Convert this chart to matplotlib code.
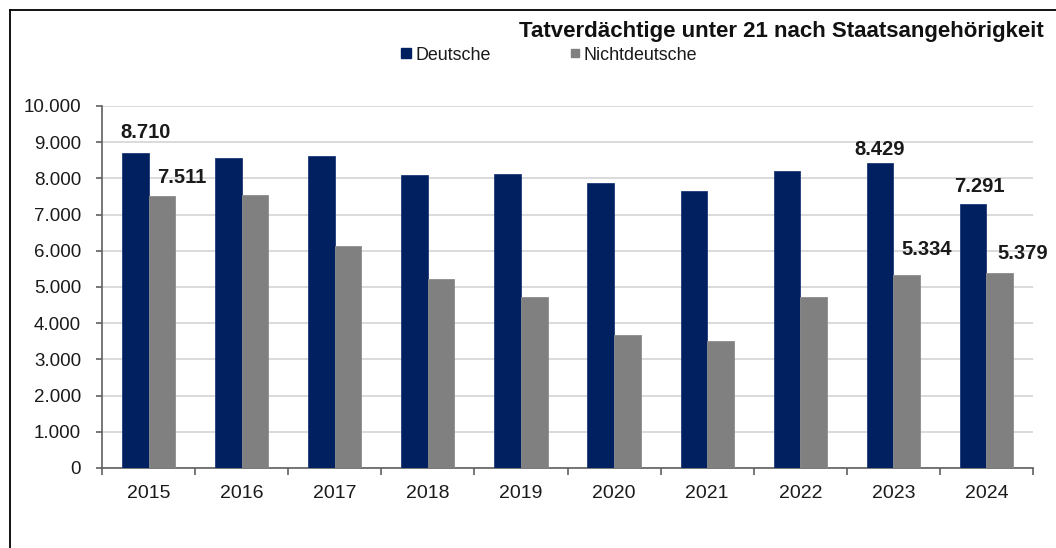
import matplotlib
matplotlib.use("Agg")
import matplotlib.pyplot as plt
from matplotlib.lines import Line2D
import numpy as np

plt.rcParams['font.family'] = ['Liberation Sans', 'DejaVu Sans']

years = ["2015", "2016", "2017", "2018", "2019", "2020", "2021", "2022", "2023", "2024"]
deutsche = [8710, 8560, 8620, 8090, 8125, 7885, 7655, 8210, 8429, 7291]
nichtdeutsche = [7511, 7540, 6125, 5215, 4711, 3683, 3507, 4711, 5334, 5379]
series_names = ["Deutsche", "Nichtdeutsche"]
title = "Tatverdächtige unter 21 nach Staatsangehörigkeit"

# labelled bars: (series index, year index, pixel offset dx, dy)
labelled = [(0, 0, 10, 20), (1, 0, 20, 19), (0, 8, 0, 13), (1, 8, 20, 25),
            (0, 9, 6, 18), (1, 9, 23, 20)]

W, H = 1056, 548
fig = plt.figure(figsize=(W / 100, H / 100), dpi=100)
ax = fig.add_axes([102 / W, 1 - 468 / H, (1033 - 102) / W, (468 - 106) / H])

navy = "#002060"
grey = "#808080"
x = np.arange(len(years))
bw = 0.286
ax.bar(x - bw / 2, deutsche, bw, color=navy, edgecolor="#1F3A78", linewidth=0.6, zorder=3)
ax.bar(x + bw / 2, nichtdeutsche, bw, color=grey, edgecolor="#8C8C8C", linewidth=0.6, zorder=3)

ax.set_xlim(-0.5, len(years) - 0.5)
ax.set_ylim(0, 10000)
ax.set_yticks(np.arange(0, 10001, 1000))
ax.set_yticklabels([f"{v:,}".replace(",", ".") for v in range(0, 10001, 1000)],
                   fontsize=13.5, color="#1a1a1a")
ax.set_xticks(x)
ax.set_xticklabels(years, fontsize=14, color="#1a1a1a")
ax.tick_params(axis='x', length=0, pad=12)
ax.set_xticks(np.arange(-0.5, len(years), 1), minor=True)
ax.tick_params(axis='x', which='minor', length=5, direction='out', color="#606060", width=1.2)
ax.tick_params(axis='y', length=4, direction='out', color="#606060", width=1.2, pad=11)

ax.grid(axis='y', color="#D4D4D4", linewidth=1.2, zorder=0)
ax.set_axisbelow(True)
for s in ["top", "right"]:
    ax.spines[s].set_visible(False)
for s in ["left", "bottom"]:
    ax.spines[s].set_color("#606060")
    ax.spines[s].set_linewidth(1.2)

data = [deutsche, nichtdeutsche]
for si, yi, dx, dy in labelled:
    v = data[si][yi]
    xpos = x[yi] + (-bw / 2 if si == 0 else bw / 2)
    ax.annotate(f"{v:,}".replace(",", "."), xy=(xpos, v), xytext=(dx, dy),
                textcoords="offset pixels", ha="center", va="center",
                fontsize=14.5, fontweight="bold", color="#1a1a1a", zorder=5)

# title
fig.text(1044 / W, 1 - 31 / H, title, ha="right", va="center",
         fontsize=16, fontweight="bold", color="#111111")

# legend
handles = [Line2D([], [], marker='s', linestyle='none', color=navy, markersize=7.5),
           Line2D([], [], marker='s', linestyle='none', color=grey, markersize=6)]
leg = fig.legend(handles, series_names, loc="center left",
                 bbox_to_anchor=(401 / W, 1 - 55 / H), ncol=2, frameon=False,
                 fontsize=12.9, handlelength=0.6, handletextpad=0.2,
                 columnspacing=4.4, borderpad=0, borderaxespad=0)
for t in leg.get_texts():
    t.set_color("#1a1a1a")

# outer frame (top and left)
fig.add_artist(Line2D([10 / W, 10 / W], [0, 1 - 10 / H], transform=fig.transFigure,
                      color="black", linewidth=1.3))
fig.add_artist(Line2D([10 / W, 1], [1 - 10 / H, 1 - 10 / H], transform=fig.transFigure,
                      color="black", linewidth=1.3))

fig.savefig("out.png", dpi=100, facecolor="white")
